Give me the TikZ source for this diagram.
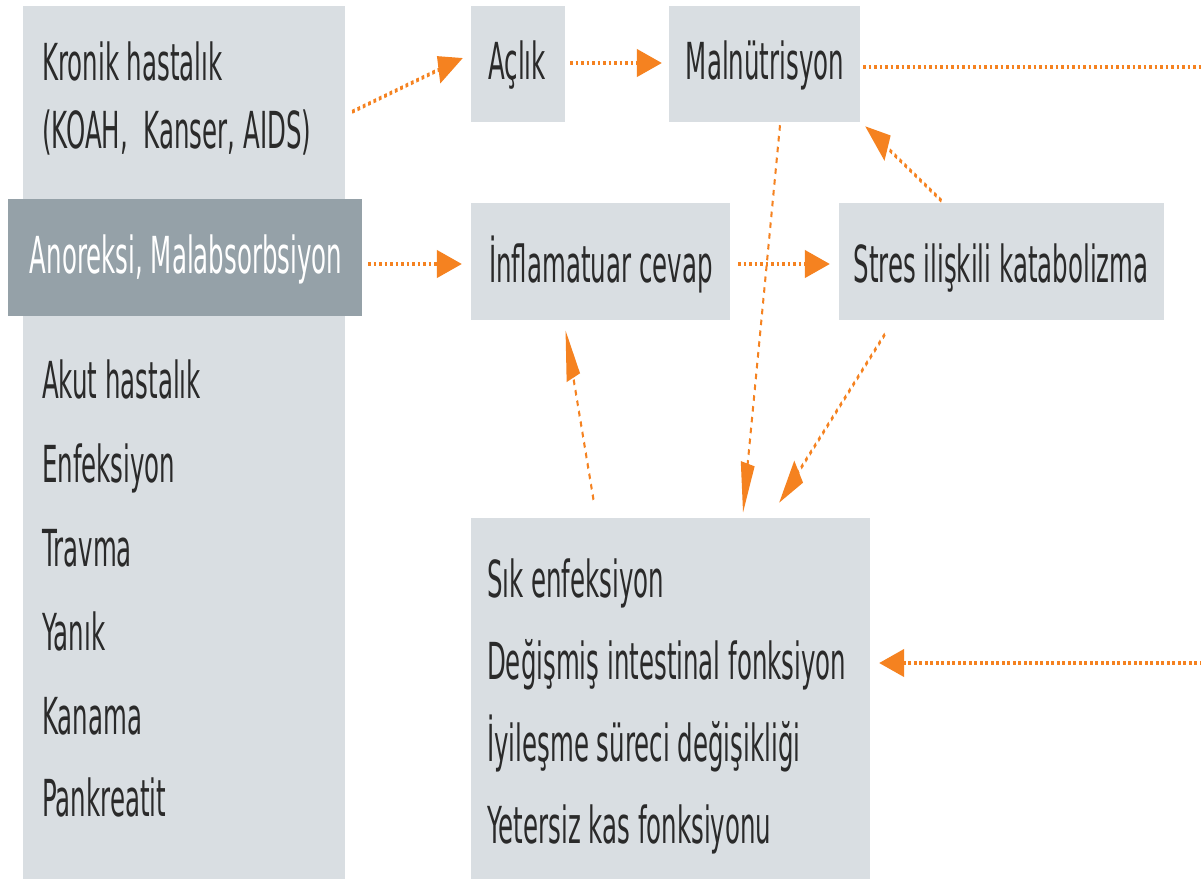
\documentclass[tikz,border=0pt]{standalone}
\usepackage{fontspec}
\setmainfont{DejaVu Sans}[FakeStretch=0.96]
\usetikzlibrary{arrows.meta,fit,calc}
\definecolor{boxgray}{HTML}{D9DEE2}
\definecolor{darkgray}{HTML}{95A1A8}
\definecolor{arrorange}{HTML}{F58220}
\definecolor{textc}{HTML}{2A2A2A}
\tikzset{
  box/.style={fill=boxgray, draw=none, inner sep=0pt},
  darkbox/.style={fill=darkgray, draw=none, inner sep=0pt},
  lbl/.style={inner sep=0pt, text=textc, font=\fontsize{51}{60}\selectfont},
  lblw/.style={lbl, anchor=base west},
  lblc/.style={lbl, anchor=base},
  dotline/.style={draw=arrorange, line width=4pt, dash pattern=on 5.5pt off 5.5pt},
  arr/.style={dotline, -{Triangle[length=50pt,width=27pt]}},
}
\begin{document}
\begin{tikzpicture}[x=1pt,y=-1pt]
\useasboundingbox[fill=white] (0,0) rectangle (1201,879);
\begin{scope}[x=2pt,y=-1pt,transform canvas={xscale=0.5}]
  % boxes
  \node[box, fit={(23,6) (345,879)}] (left) {};
  \node[darkbox, fit={(8,199) (362,316)}] (anor) {};
  \node[box, fit={(471,6) (565,122)}] (acl) {};
  \node[box, fit={(669,6) (860,122)}] (mal) {};
  \node[box, fit={(471,203) (730,320)}] (inf) {};
  \node[box, fit={(839,203) (1164,320)}] (str) {};
  \node[box, fit={(471,518) (870,879)}] (bot) {};
  % left column texts
  \node[lblw] (t1) at (42,80) {Kronik hastalık};
  \node[lblw] (t2) at (42,148) {(KOAH,~~Kanser, AIDS)};
  \node[lbl, anchor=base, text=white] (t3) at (186,273) {Anoreksi, Malabsorbsiyon};
  \node[lblw] (t4) at (42,398) {Akut hastalık};
  \node[lblw] (t5) at (42,482) {Enfeksiyon};
  \node[lblw] (t6) at (42,566) {Travma};
  \node[lblw] (t7) at (42,650) {Yanık};
  \node[lblw] (t8) at (42,734) {Kanama};
  \node[lblw] (t9) at (42,816) {Pankreatit};
  % other boxes texts
  \node[lblc] (ta) at (517,79) {Açlık};
  \node[lblc] (tm) at (765,79) {Malnütrisyon};
  \node[lblc] (ti) at (601,282) {İnflamatuar cevap};
  \node[lblc] (ts) at (1001,282) {Stres ilişkili katabolizma};
  \node[lblw] (b1) at (487,597) {Sık enfeksiyon};
  \node[lblw] (b2) at (487,679) {Değişmiş intestinal fonksiyon};
  \node[lblw] (b3) at (487,761) {İyileşme süreci değişikliği};
  \node[lblw] (b4) at (487,843) {Yetersiz kas fonksiyonu};
  % connectors
  \coordinate (re1) at (1230,67);
  \coordinate (re2) at (1230,663);
  \draw[arr] ($(left.north east)+(7,106)$) -- ($(acl.west)+(-8,-6)$);
  \draw[arr] ($(acl.east)+(5,-1)$) -- ($(mal.west)+(-7,-1)$);
  \draw[dotline] ($(mal.east)+(3,3)$) -- (re1);
  \draw[arr] (re2) -- ($(bot.east)+(9,-35.5)$);
  \draw[arr] ($(anor.east)+(6,6.5)$) -- ($(inf.west)+(-9,2.5)$);
  \draw[arr] ($(inf.east)+(8,2.5)$) -- ($(str.west)+(-9,2.5)$);
  \draw[arr] ($(str.north)+(-60,-2)$) -- ($(mal.south east)+(5,4)$);
  \draw[arr] ($(mal.south)+(15.5,3)$) -- ($(bot.north)+(72.5,-5)$);
  \draw[arr] ($(str.south west)+(46,14)$) -- ($(bot.north east)+(-91,-15)$);
  \draw[arr] ($(bot.north)+(-77,-18)$) -- ($(inf.south)+(-35,10)$);
\end{scope}
\end{tikzpicture}
\end{document}
